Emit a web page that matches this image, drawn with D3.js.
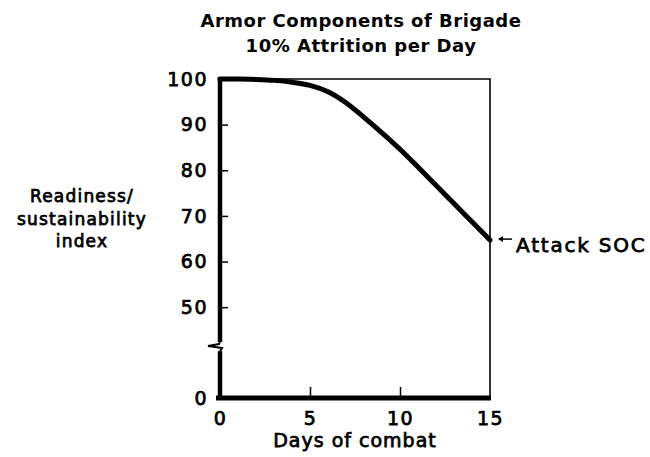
<!DOCTYPE html>
<html>
<head>
<meta charset="utf-8">
<script src="https://cdn.jsdelivr.net/npm/d3@7"></script>
<style>
  body { margin: 0; background: #fff; }
  svg { font-family: "DejaVu Sans", sans-serif; }
  svg text { fill: #000; stroke: #000; stroke-width: 0.75px; }
</style>
</head>
<body>
<script>
var width = 650,
    height = 457

// readiness curve
var days = [0, 1, 2, 3, 4, 5, 6, 7, 8, 9, 10, 11, 12, 13, 14, 15];
var readiness = [100, 100, 99.9, 99.7, 99.3, 98.6, 97.2, 94.8, 91.6, 88.2, 84.6, 80.7, 76.7, 72.7, 68.7, 64.7];

var yTicks = [0, 50, 60, 70, 80, 90, 100];
var xTicks = [0, 5, 10, 15];
var titleLines = ["Armor Components of Brigade", "10% Attrition per Day"];
var yLabelLines = ["Readiness/", "sustainability", "index"];

var svg = d3.select("body").append("svg")
    .attr("width", width)
    .attr("height", height);

var x = d3.scaleLinear().domain([0, 15]).range([220, 490]);
// broken axis: 0..45 squeezed, 45..100 full
var y = d3.scaleLinear().domain([0, 45, 100]).range([398, 330, 79]);

// title
svg.selectAll(".title")
    .data(titleLines)
    .enter()
    .append("text")
    .attr("class", "title")
    .attr("x", 361)
    .attr("y", (d, i) => 27 + i * 25)
    .attr("text-anchor", "middle")
    .style("font-size", "18px")
    .style("font-weight", "bold")
    .style("stroke-width", 0)
    .style("letter-spacing", "0.5px")
    .text(d => d);

// thin frame, top and right
svg.append("path")
    .attr("d", "M" + x(0) + "," + y(100) + "H" + x(15) + "V" + y(0))
    .style("fill", "none")
    .style("stroke", "#000")
    .style("stroke-width", 1.6);

// y axis ticks + labels
var yAxis = d3.axisLeft(y)
    .tickValues(yTicks)
    .tickSize(0)
    .tickPadding(12)
    .tickFormat(d3.format("d"));

var gy = svg.append("g")
    .attr("transform", "translate(" + x(0) + ",0)")
    .call(yAxis);
gy.select(".domain").remove();
gy.selectAll("text")
    .style("font-size", "19px")
    .style("font-family", "DejaVu Sans")
    .style("letter-spacing", "1.5px");
gy.selectAll(".tick")
    .filter(d => d > 0 && d < 100)
    .append("line")
    .attr("x1", 0)
    .attr("x2", 8)
    .style("stroke", "#000")
    .style("stroke-width", 1.5);

// x axis ticks + labels
var xAxis = d3.axisBottom(x)
    .tickValues(xTicks)
    .tickSize(0)
    .tickPadding(14);

var gx = svg.append("g")
    .attr("transform", "translate(0," + y(0) + ")")
    .call(xAxis);
gx.select(".domain").remove();
gx.selectAll("text")
    .style("font-size", "19px")
    .style("font-family", "DejaVu Sans")
    .style("letter-spacing", "1.5px");
gx.selectAll(".tick")
    .filter(d => d > 0 && d < 15)
    .append("line")
    .attr("y1", 0)
    .attr("y2", -11)
    .style("stroke", "#000")
    .style("stroke-width", 1.5);

// heavy left axis with break
var breakTop = y(37),
    breakBot = y(31);
svg.append("line")
    .attr("x1", x(0)).attr("x2", x(0))
    .attr("y1", y(100) - 2).attr("y2", breakTop)
    .style("stroke", "#000")
    .style("stroke-width", 4.5);
svg.append("path")
    .attr("d", "M" + x(0) + "," + breakTop +
               "L" + (x(0) - 1) + "," + (breakTop + 2) +
               "L" + (x(0) - 12) + "," + (breakTop + 4) +
               "L" + (x(0) + 2) + "," + (breakTop + 6) +
               "L" + x(0) + "," + breakBot)
    .style("fill", "none")
    .style("stroke", "#000")
    .style("stroke-width", 2);
svg.append("line")
    .attr("x1", x(0)).attr("x2", x(0))
    .attr("y1", breakBot).attr("y2", y(0) + 2)
    .style("stroke", "#000")
    .style("stroke-width", 4.5);

// heavy bottom axis
svg.append("line")
    .attr("x1", x(0) - 4).attr("x2", x(15) + 1)
    .attr("y1", y(0)).attr("y2", y(0))
    .style("stroke", "#000")
    .style("stroke-width", 5);

// readiness curve
var line = d3.line()
    .x((d, i) => x(days[i]))
    .y(d => y(d))
    .curve(d3.curveMonotoneX);

svg.append("path")
    .datum(readiness)
    .attr("d", line)
    .style("fill", "none")
    .style("stroke", "#000")
    .style("stroke-width", 5)
    .style("stroke-linecap", "round");

// annotation
var endY = y(readiness[readiness.length - 1]);
svg.append("line")
    .attr("x1", x(15) + 9).attr("x2", x(15) + 22)
    .attr("y1", endY - 1).attr("y2", endY - 1)
    .style("stroke", "#000")
    .style("stroke-width", 1.5);
svg.append("path")
    .attr("d", "M" + (x(15) + 8) + "," + (endY - 1) +
               "l5,-3 l0,6 z")
    .style("fill", "#000");
svg.append("text")
    .attr("x", x(15) + 26)
    .attr("y", endY + 12)
    .style("font-size", "20px")
    .style("letter-spacing", "1.8px")
    .text("Attack SOC");

// axis titles
svg.selectAll(".ylab")
    .data(yLabelLines)
    .enter()
    .append("text")
    .attr("class", "ylab")
    .attr("x", 82)
    .attr("y", (d, i) => 202 + i * 22.5)
    .attr("text-anchor", "middle")
    .style("font-size", "17px")
    .style("letter-spacing", "1.2px")
    .text(d => d);

svg.append("text")
    .attr("x", 355)
    .attr("y", 447)
    .attr("text-anchor", "middle")
    .style("font-size", "19px")
    .style("letter-spacing", "1px")
    .text("Days of combat");
</script>
</body>
</html>
